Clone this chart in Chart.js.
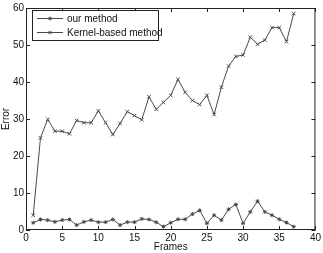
<!DOCTYPE html>
<html>
<head>
<meta charset="utf-8">
<script src="https://cdn.jsdelivr.net/npm/chart.js@4.4.1/dist/chart.umd.min.js"></script>
<style>
  html, body { margin: 0; padding: 0; background: #fff; }
  #wrap { width: 323px; height: 253px; position: relative; }
</style>
</head>
<body>
<div id="wrap"><canvas id="errChart"></canvas></div>
<script>
const frames = [1,2,3,4,5,6,7,8,9,10,11,12,13,14,15,16,17,18,19,20,21,22,23,24,25,26,27,28,29,30,31,32,33,34,35,36,37];
const ourMethod = [1.95,2.85,2.67,2.2,2.67,2.85,1.33,2.2,2.67,2.13,2.13,2.85,1.33,2.13,2.13,3.0,2.85,2.1,0.9,1.95,
                   2.9,2.9,4.3,5.3,1.8,4.0,2.67,5.6,6.9,1.8,4.9,7.8,4.9,4.0,2.9,2.0,0.9];
const kernelBased = [4.0,24.9,29.9,26.7,26.7,26.0,29.6,29.0,29.0,32.2,29.0,25.8,28.8,32.0,30.9,29.8,36.0,32.6,34.5,36.4,
                     40.7,37.2,35.0,33.9,36.4,31.2,38.6,44.3,46.9,47.3,52.1,50.2,51.3,54.7,54.7,50.9,58.5];
const seriesNames = ['our method', 'Kernel-based method'];
const xTitle = 'Frames';
const yTitle = 'Error';

const LINE = '#4a4a4a';
const AXIS = '#222';
const FONT = 'Liberation Sans, Arial, sans-serif';

// ─── Box + inward ticks, MATLAB style ────────────────────────────────────────
const boxTicks = {
  id: 'boxTicks',
  afterDraw(chart) {
    const { ctx, chartArea: a, scales: { x, y } } = chart;
    ctx.save();
    ctx.strokeStyle = AXIS;
    ctx.lineWidth = 1;
    ctx.strokeRect(a.left + 0.5, a.top + 0.5, a.right - a.left - 1, a.bottom - a.top - 1);
    ctx.beginPath();
    x.ticks.forEach(t => {
      const px = Math.round(x.getPixelForValue(t.value)) + 0.5;
      ctx.moveTo(px, a.bottom); ctx.lineTo(px, a.bottom - 4);
      ctx.moveTo(px, a.top);    ctx.lineTo(px, a.top + 4);
    });
    y.ticks.forEach(t => {
      const py = Math.round(y.getPixelForValue(t.value)) + 0.5;
      ctx.moveTo(a.left, py);  ctx.lineTo(a.left + 4, py);
      ctx.moveTo(a.right, py); ctx.lineTo(a.right - 4, py);
    });
    ctx.stroke();
    ctx.restore();
  }
};

// ─── Legend box inside the plot ──────────────────────────────────────────────
const insideLegend = {
  id: 'insideLegend',
  afterDraw(chart) {
    const { ctx, chartArea: a } = chart;
    const bx = a.left + 6, by = a.top + 2, bw = 126, bh = 30;
    ctx.save();
    ctx.fillStyle = '#fff';
    ctx.fillRect(bx, by, bw, bh);
    ctx.strokeStyle = AXIS;
    ctx.lineWidth = 1;
    ctx.strokeRect(bx + 0.5, by + 0.5, bw, bh);
    ctx.font = '10px ' + FONT;
    ctx.textBaseline = 'middle';
    chart.data.datasets.forEach((ds, i) => {
      const ly = by + 8.5 + i * 14;
      ctx.strokeStyle = LINE;
      ctx.beginPath();
      ctx.moveTo(bx + 5, ly); ctx.lineTo(bx + 31, ly);
      ctx.stroke();
      Chart.helpers.drawPoint(ctx, { pointStyle: ds.pointStyle, radius: ds.pointRadius, borderWidth: 1 }, bx + 18, ly);
      ctx.fillStyle = '#111';
      ctx.fillText(ds.label, bx + 35, ly + 0.5);
    });
    ctx.restore();
  }
};

new Chart(document.getElementById('errChart').getContext('2d'), {
  type: 'line',
  data: {
    datasets: [
      {
        label: seriesNames[0],
        data: frames.map((f, i) => ({ x: f, y: ourMethod[i] })),
        borderColor: LINE,
        backgroundColor: LINE,
        borderWidth: 1,
        pointStyle: 'star',
        pointRadius: 2,
        pointBorderWidth: 1,
        tension: 0
      },
      {
        label: seriesNames[1],
        data: frames.map((f, i) => ({ x: f, y: kernelBased[i] })),
        borderColor: LINE,
        backgroundColor: LINE,
        borderWidth: 1,
        pointStyle: 'crossRot',
        pointRadius: 2.5,
        pointBorderWidth: 1,
        tension: 0
      }
    ]
  },
  options: {
    responsive: true,
    maintainAspectRatio: false,
    animation: false,
    layout: { padding: { left: 0, right: 5, top: 5, bottom: 0 } },
    plugins: { legend: { display: false }, tooltip: { enabled: false } },
    scales: {
      x: {
        type: 'linear',
        min: 0, max: 40,
        grid: { display: false, drawTicks: false, tickLength: 0 },
        border: { display: false },
        ticks: { stepSize: 5, color: '#111', font: { size: 10, family: FONT }, padding: 2, maxRotation: 0 },
        title: { display: true, text: xTitle, color: '#111', font: { size: 10, family: FONT }, padding: 0 },
        afterFit: s => { s.height = 23; }
      },
      y: {
        min: 0, max: 60,
        grid: { display: false, drawTicks: false, tickLength: 0 },
        border: { display: false },
        ticks: { stepSize: 10, color: '#111', font: { size: 10, family: FONT }, padding: 2 },
        title: { display: true, text: yTitle, color: '#111', font: { size: 10, family: FONT }, padding: 0 },
        afterFit: s => { s.width = 26; }
      }
    }
  },
  plugins: [boxTicks, insideLegend]
});
</script>
</body>
</html>
